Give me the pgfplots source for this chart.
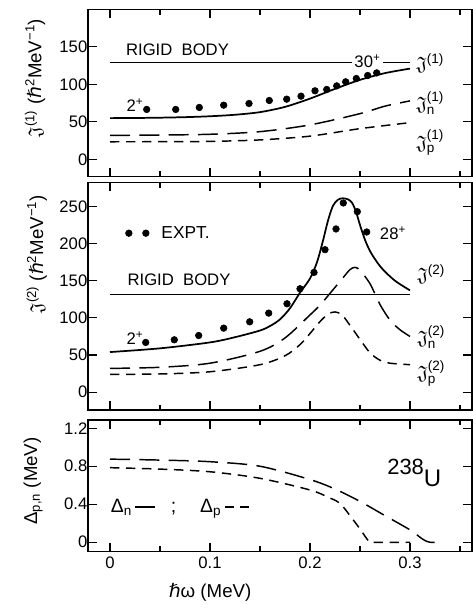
\documentclass[border=0pt]{standalone}
\usepackage{amsmath,amssymb}
\usepackage{fontspec}
\setmainfont{Liberation Sans}
\newfontfamily\dejavu{DejaVu Sans}
\newcommand{\hb}{{\dejavu ℏ}}
\usepackage{pgfplots}
\pgfplotsset{compat=1.18}
\pgfplotsset{
  panel/.style={
    scale only axis, width=288pt,
    xmin=-0.022, xmax=0.362,
    xtick={0,0.1,0.2,0.3}, minor xtick={0.05,0.15,0.25,0.35},
    tick align=inside, major tick length=6.5pt, minor tick length=4pt,
    every tick/.append style={black, line width=0.8pt},
    axis line style={line width=0.9pt},
    ticklabel style={font=\fontsize{12.5}{14}\selectfont},
    yticklabel style={xshift=3pt},
    /pgf/number format/assume math mode=true,
    clip=false,
    label style={font=\fontsize{14}{16}\selectfont},
  },
}
\tikzset{
  rigid/.style={black, line width=0.5pt},
  tot/.style={black, line width=1.3pt, smooth},
  neu/.style={black, line width=1.1pt, smooth, dash pattern=on 15pt off 7pt},
  pro/.style={black, line width=1.1pt, smooth, dash pattern=on 7pt off 5pt},
  expt/.style={only marks, mark=*, mark size=2.5pt, black},
  jlab/.style={anchor=west, inner sep=0pt, font=\fontsize{14.5}{16}\selectfont},
}
\begin{document}
\begin{tikzpicture}[font=\fontsize{12.5}{14}\selectfont]
\useasboundingbox (0,0) rectangle (354pt,-453.75pt);

% ---------------- Panel 1 ----------------
\begin{axis}[panel, at={(66pt,-7pt)}, anchor=north west, height=125.5pt,
  ymin=-23, ymax=200, ytick={0,50,100,150}, xticklabels={},
  ylabel={$\mathfrak{J}^{\text{(1)}}$ (\hb\textsuperscript{2}MeV\textsuperscript{−1})},
  ylabel style={at={(axis description cs:-0.138,0.59)}, anchor=center}]
\addplot[rigid] coordinates {(0,130) (0.3,130)};
\addplot[tot] coordinates {(0,55) (0.025,55.2) (0.05,55.6) (0.075,56.3) (0.1,57.5) (0.125,59.5) (0.15,63) (0.175,70) (0.2,81) (0.225,94) (0.25,106) (0.275,115) (0.3,121)};
\addplot[neu] coordinates {(0,32) (0.05,32.5) (0.1,33.5) (0.15,37) (0.2,46) (0.25,61) (0.275,71) (0.3,78)};
\addplot[pro] coordinates {(0,23.5) (0.05,23.6) (0.1,24) (0.15,26) (0.2,31) (0.25,41) (0.3,49)};
\addplot[expt] coordinates {(0.0367,66.6) (0.0657,66.6) (0.0893,69.2) (0.1137,72.3) (0.139,74.5) (0.1593,78.5) (0.1767,80.3) (0.191,84.3) (0.205,91.4) (0.2167,93.2) (0.2267,98) (0.2357,103.4) (0.2463,107.8) (0.2577,111.8) (0.2667,115.3)};
\node[fill=white, inner sep=1.5pt] at (axis cs:0.2575,131) {30\textsuperscript{+}};
\node at (axis cs:0.0675,146) {RIGID\ \ BODY};
\node at (axis cs:0.025,72) {2\textsuperscript{+}};
\node[jlab] at (axis cs:0.306,128) {$\mathfrak{J}^{\text{(1)}}$};
\node[jlab] at (axis cs:0.306,75) {$\mathfrak{J}^{\text{(1)}}_{\text{n}}$};
\node[jlab] at (axis cs:0.306,22) {$\mathfrak{J}^{\text{(1)}}_{\text{p}}$};
\end{axis}

% ---------------- Panel 2 ----------------
\begin{axis}[panel, at={(66pt,-137pt)}, anchor=north west, height=170.5pt,
  ymin=-24, ymax=282, ytick={0,50,100,150,200,250}, xticklabels={},
  ylabel={$\mathfrak{J}^{\text{(2)}}$ (\hb\textsuperscript{2}MeV\textsuperscript{−1})},
  ylabel style={at={(axis description cs:-0.133,0.686)}, anchor=center},
  legend style={at={(axis cs:0.011,214)}, anchor=west, draw=none, fill=none,
    font=\fontsize{13}{14}\selectfont}]
\addplot[expt, legend image code/.code={\fill (0pt,0pt) circle (2.5pt); \fill (12.75pt,0pt) circle (2.5pt);}] coordinates {(0.0357,66.9) (0.0643,70.5) (0.0887,76.3) (0.1137,86.2) (0.1397,94.7) (0.1587,106.4) (0.177,119) (0.19,139.2) (0.204,161.2) (0.215,191.8) (0.226,219.7) (0.2333,254.7) (0.2473,243) (0.2567,215.6)};
\addlegendentry{\hspace{7pt}EXPT.}
\addplot[rigid, forget plot] coordinates {(0,132) (0.3,132)};
\addplot[tot, forget plot] coordinates {(0,54) (0.05,59) (0.1,67) (0.125,74) (0.15,83) (0.16,89) (0.17,98) (0.18,113) (0.19,134) (0.2,153) (0.207,175) (0.213,204) (0.218,231) (0.223,251) (0.228,259) (0.2327,261) (0.238,259.5) (0.242,255) (0.246,243) (0.25,225) (0.255,205) (0.26,190) (0.266,177) (0.273,165) (0.285,150) (0.3,137)};
\addplot[neu, forget plot] coordinates {(0,32) (0.05,33.5) (0.1,39) (0.15,55) (0.175,73) (0.2,104) (0.21,117) (0.22,133) (0.233,154) (0.24,165) (0.245,168) (0.25,164) (0.26,146) (0.27,118) (0.28,97) (0.29,84) (0.3,75)};
\addplot[pro, forget plot] coordinates {(0,24) (0.05,24.5) (0.1,27.5) (0.15,37) (0.175,49) (0.19,64) (0.2,79) (0.21,95) (0.218,105) (0.225,108) (0.232,104) (0.24,90) (0.25,71) (0.26,53) (0.27,43) (0.28,39) (0.3,37)};
\node at (axis cs:0.069,151) {RIGID\ \ BODY};
\node at (axis cs:0.025,73) {2\textsuperscript{+}};
\node at (axis cs:0.283,214) {28\textsuperscript{+}};
\node[jlab] at (axis cs:0.307,159) {$\mathfrak{J}^{\text{(2)}}$};
\node[jlab] at (axis cs:0.307,74) {$\mathfrak{J}^{\text{(2)}}_{\text{n}}$};
\node[jlab] at (axis cs:0.307,25) {$\mathfrak{J}^{\text{(2)}}_{\text{p}}$};
\end{axis}

% ---------------- Panel 3 ----------------
\begin{axis}[panel, at={(66pt,-315pt)}, anchor=north west, height=98.8pt,
  ymin=-0.1, ymax=1.287, ytick={0,0.4,0.8,1.2},
  xticklabel style={/pgf/number format/.cd, fixed, precision=1},
  yticklabel style={/pgf/number format/.cd, fixed, precision=1},
  xlabel={\hb ω (MeV)},
  xlabel style={at={(axis description cs:0.318,-0.306)}, anchor=center},
  ylabel={Δ\textsubscript{p,n} (MeV)},
  ylabel style={at={(axis description cs:-0.143,0.537)}, anchor=center},
  legend style={at={(axis cs:-0.006,0.37)}, anchor=west, draw=none, fill=none,
    font=\fontsize{14.5}{16}\selectfont},
  legend plot pos=right, legend columns=2]
\addplot[neu, legend image code/.code={\draw[black, line width=1.1pt] (3pt,0pt) -- (19pt,0pt);}] coordinates {(0,0.875) (0.05,0.865) (0.1,0.848) (0.15,0.8) (0.2,0.66) (0.225,0.56) (0.25,0.43) (0.275,0.28) (0.3,0.13) (0.313,0.03) (0.32,0) (0.333,0)};
\addlegendentry{Δ\textsubscript{n}}
\addplot[pro, legend image code/.code={\draw[black, line width=1.1pt] (2pt,0pt) -- (10pt,0pt) (13.5pt,0pt) -- (21.5pt,0pt);}] coordinates {(0,0.785) (0.05,0.77) (0.1,0.742) (0.15,0.673) (0.2,0.55) (0.22,0.465) (0.23,0.41) (0.24,0.28) (0.25,0.14) (0.258,0.02) (0.262,0) (0.3,0)};
\addlegendentry{\hspace{8pt};\hspace{18pt}Δ\textsubscript{p}}
\node[anchor=base west, inner sep=0pt, font=\fontsize{16.5}{18}\selectfont] at (axis cs:0.277,0.708) {238\raisebox{-8.5pt}{\fontsize{18}{18}\selectfont U}};
\end{axis}
\end{tikzpicture}
\end{document}
